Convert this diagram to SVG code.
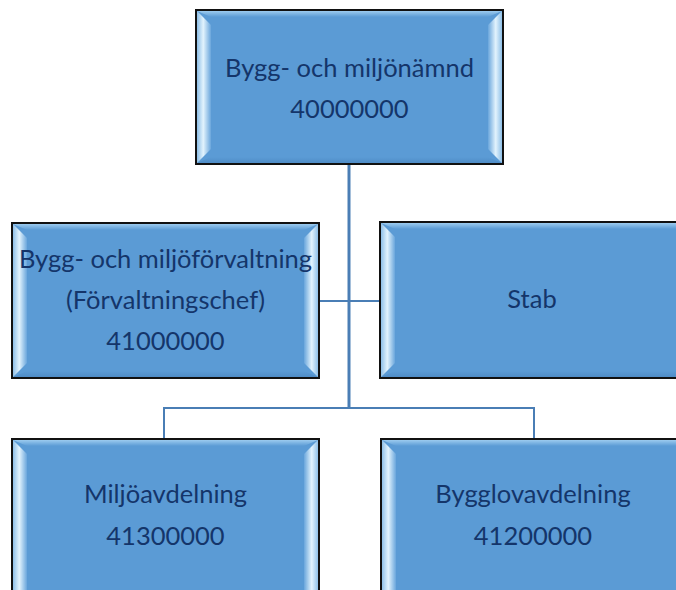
<svg xmlns="http://www.w3.org/2000/svg" width="676" height="590" viewBox="0 0 676 590">
<defs>
<linearGradient id="gl" x1="0" y1="0" x2="1" y2="0">
<stop offset="0" stop-color="#8fc0e8"/>
<stop offset="0.45" stop-color="#e2f3fd"/>
<stop offset="1" stop-color="#6aa6dc"/>
</linearGradient>
<linearGradient id="gr" x1="1" y1="0" x2="0" y2="0">
<stop offset="0" stop-color="#8fc0e8"/>
<stop offset="0.45" stop-color="#e2f3fd"/>
<stop offset="1" stop-color="#6aa6dc"/>
</linearGradient>
<linearGradient id="gt" x1="0" y1="0" x2="0" y2="1">
<stop offset="0" stop-color="#9ccbef"/>
<stop offset="1" stop-color="#5b9bd5"/>
</linearGradient>
<linearGradient id="gb" x1="0" y1="1" x2="0" y2="0">
<stop offset="0" stop-color="#4f8cc6"/>
<stop offset="1" stop-color="#5b9bd5"/>
</linearGradient>
</defs>
<style>
.box{fill:#5b9bd5;stroke:#111;stroke-width:2}
.l{fill:url(#gl)}
.r{fill:url(#gr)}
.t{fill:url(#gt)}
.b{fill:url(#gb)}
.txt{font-family:Lato,"Open Sans",sans-serif;font-size:25.5px;fill:#14356a;text-anchor:middle}
.c{stroke:#4a7eb5;fill:none;stroke-width:2}
</style>
<rect width="676" height="590" fill="#fff"/>
<g id="connectors">
<line class="c" x1="349" y1="164" x2="349" y2="408" style="stroke-width:3"/>
<line class="c" x1="320" y1="301" x2="380" y2="301"/>
<polyline class="c" points="164,439 164,408 534,408 534,439"/>
</g>
<g id="n1">
<rect class="box" x="196" y="10" width="307" height="154"/>
<polygon class="t" points="197,11 502,11 488,17 211,17"/>
<polygon class="b" points="197,163 502,163 488,157 211,157"/>
<polygon class="l" points="197,11 211,25 211,149 197,163"/>
<polygon class="r" points="502,11 488,25 488,149 502,163"/>
<text class="txt" x="349.5" y="77">Bygg- och miljönämnd</text>
<text class="txt" x="349.5" y="118">40000000</text>
</g>
<g id="n2">
<rect class="box" x="12" y="223" width="307" height="155"/>
<polygon class="t" points="13,224 318,224 304,230 27,230"/>
<polygon class="b" points="13,377 318,377 304,371 27,371"/>
<polygon class="l" points="13,224 27,238 27,363 13,377"/>
<polygon class="r" points="318,224 304,238 304,363 318,377"/>
<text class="txt" x="165.5" y="268">Bygg- och miljöförvaltning</text>
<text class="txt" x="165.5" y="309">(Förvaltningschef)</text>
<text class="txt" x="165.5" y="350">41000000</text>
</g>
<g id="n3">
<rect class="box" x="380" y="222" width="310" height="156"/>
<polygon class="t" points="381,223 690,223 676,229 395,229"/>
<polygon class="b" points="381,377 690,377 676,371 395,371"/>
<polygon class="l" points="381,223 395,237 395,363 381,377"/>
<text class="txt" x="532" y="308">Stab</text>
</g>
<g id="n4">
<rect class="box" x="12" y="439" width="307" height="160"/>
<polygon class="t" points="13,440 318,440 304,446 27,446"/>
<polygon class="l" points="13,440 27,454 27,600 13,600"/>
<polygon class="r" points="318,440 304,454 304,600 318,600"/>
<text class="txt" x="165.5" y="503">Miljöavdelning</text>
<text class="txt" x="165.5" y="545">41300000</text>
</g>
<g id="n5">
<rect class="box" x="381" y="439" width="310" height="160"/>
<polygon class="t" points="382,440 690,440 676,446 396,446"/>
<polygon class="l" points="382,440 396,454 396,600 382,600"/>
<text class="txt" x="533" y="503">Bygglovavdelning</text>
<text class="txt" x="533" y="545">41200000</text>
</g>
</svg>
